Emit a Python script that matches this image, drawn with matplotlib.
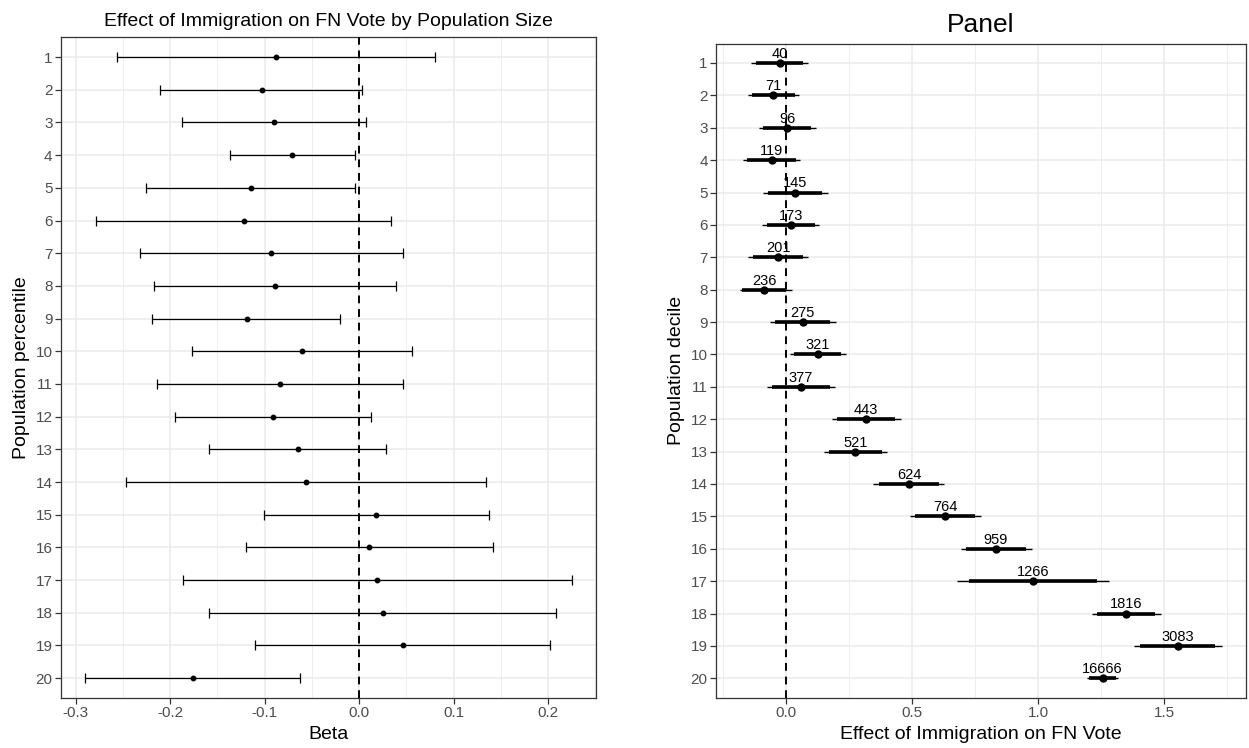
import numpy as np
import matplotlib
matplotlib.use('Agg')
import matplotlib.pyplot as plt
from matplotlib.ticker import MultipleLocator

plt.rcParams['font.family'] = ['Liberation Sans', 'DejaVu Sans']

# left panel: percentiles
pct   = np.arange(1, 21)
beta  = [-0.088, -0.103, -0.090, -0.071, -0.114, -0.122, -0.093, -0.089, -0.119, -0.060,
         -0.084, -0.091, -0.065, -0.056, 0.018, 0.011, 0.019, 0.025, 0.046, -0.176]
b_lo  = [-0.256, -0.211, -0.187, -0.137, -0.225, -0.278, -0.232, -0.217, -0.219, -0.177,
         -0.214, -0.195, -0.159, -0.247, -0.101, -0.120, -0.186, -0.159, -0.110, -0.290]
b_hi  = [0.080, 0.003, 0.007, -0.004, -0.004, 0.034, 0.046, 0.039, -0.020, 0.056,
         0.046, 0.013, 0.029, 0.134, 0.138, 0.142, 0.225, 0.208, 0.202, -0.063]

# right panel: deciles
dec   = np.arange(1, 21)
est   = [-0.025, -0.051, 0.005, -0.057, 0.037, 0.019, -0.031, -0.086, 0.066, 0.125,
         0.059, 0.318, 0.275, 0.488, 0.631, 0.832, 0.980, 1.349, 1.552, 1.255]
lo95  = [-0.137, -0.151, -0.106, -0.171, -0.090, -0.094, -0.151, -0.182, -0.063, 0.017,
         -0.077, 0.181, 0.151, 0.346, 0.491, 0.693, 0.677, 1.211, 1.378, 1.194]
hi95  = [0.086, 0.051, 0.120, 0.057, 0.165, 0.131, 0.088, 0.025, 0.198, 0.236,
         0.196, 0.455, 0.400, 0.628, 0.773, 0.974, 1.282, 1.485, 1.728, 1.318]
lo90  = [-0.119, -0.136, -0.090, -0.153, -0.070, -0.076, -0.131, -0.173, -0.043, 0.033,
         -0.056, 0.203, 0.171, 0.370, 0.513, 0.714, 0.726, 1.234, 1.405, 1.203]
hi90  = [0.069, 0.034, 0.100, 0.039, 0.144, 0.113, 0.069, 0.001, 0.175, 0.217,
         0.174, 0.433, 0.379, 0.606, 0.749, 0.950, 1.234, 1.464, 1.699, 1.307]
n_obs = [40, 71, 96, 119, 145, 173, 201, 236, 275, 321,
         377, 443, 521, 624, 764, 959, 1266, 1816, 3083, 16666]

fig = plt.figure(figsize=(12.49, 7.48), dpi=100)
ax1 = fig.add_axes([0.0488, 0.0672, 0.4280, 0.8827])
ax2 = fig.add_axes([0.5733, 0.0672, 0.4243, 0.8746])

def style(ax):
    ax.set_facecolor('white')
    ax.grid(which='major', color='#EBEBEB', linewidth=1.1, zorder=0)
    ax.grid(which='minor', axis='x', color='#EBEBEB', linewidth=0.6, zorder=0)
    ax.set_axisbelow(True)
    for s in ax.spines.values():
        s.set_color('#333333')
        s.set_linewidth(0.9)
    ax.tick_params(axis='both', which='major', length=4, width=0.9, color='#333333',
                   labelsize=11, labelcolor='#4D4D4D', pad=2)
    ax.tick_params(axis='both', which='minor', length=0)

# left plot
ax1.errorbar(beta, pct, xerr=[np.array(beta) - np.array(b_lo), np.array(b_hi) - np.array(beta)],
             fmt='o', color='black', ms=3.2, elinewidth=0.9, capsize=3.5, capthick=0.9, zorder=3)
ax1.axvline(0, color='black', linestyle=(0, (4, 3)), linewidth=1.4, zorder=4)
ax1.set_xlim(-0.3154, 0.2502)
ax1.set_ylim(20.6, 0.4)
ax1.set_yticks(pct)
ax1.set_xticks([-0.3, -0.2, -0.1, 0.0, 0.1, 0.2])
ax1.set_xticklabels(['-0.3', '-0.2', '-0.1', '0.0', '0.1', '0.2'])
ax1.xaxis.set_minor_locator(MultipleLocator(0.05))
style(ax1)
ax1.set_xlabel('Beta', fontsize=14, labelpad=4)
ax1.set_ylabel('Population percentile', fontsize=14, labelpad=4)
ax1.set_title('Effect of Immigration on FN Vote by Population Size', fontsize=14, pad=8)

# right plot
ax2.hlines(dec, lo95, hi95, color='black', linewidth=1.0, zorder=3)
ax2.hlines(dec, lo90, hi90, color='black', linewidth=2.6, zorder=3)
ax2.plot(est, dec, 'o', color='black', ms=5, zorder=4)
for x, y, n in zip(est, dec, n_obs):
    ax2.annotate(str(n), (x, y), xytext=(0, 1.5), textcoords='offset points',
                 ha='center', va='bottom', fontsize=10.5, zorder=5)
ax2.axvline(0, color='black', linestyle=(0, (4, 3)), linewidth=1.4, zorder=6)
ax2.set_xlim(-0.2775, 1.8235)
ax2.set_ylim(20.6, 0.4)
ax2.set_yticks(dec)
ax2.set_xticks([0.0, 0.5, 1.0, 1.5])
ax2.set_xticklabels(['0.0', '0.5', '1.0', '1.5'])
ax2.xaxis.set_minor_locator(MultipleLocator(0.25))
style(ax2)
ax2.set_xlabel('Effect of Immigration on FN Vote', fontsize=14, labelpad=4)
ax2.set_ylabel('Population decile', fontsize=14, labelpad=4)
ax2.set_title('Panel', fontsize=19, pad=8)

fig.savefig('out.png', dpi=100)
